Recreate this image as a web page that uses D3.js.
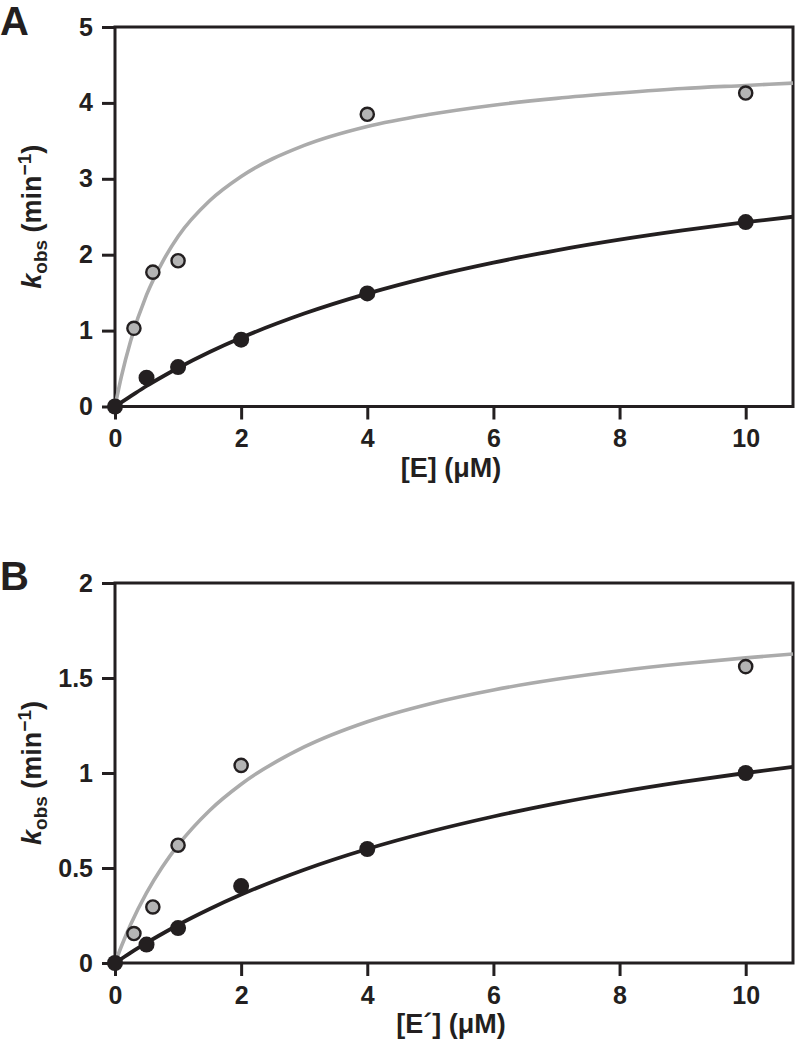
<!DOCTYPE html>
<html>
<head>
<meta charset="utf-8">
<script src="https://cdn.jsdelivr.net/npm/d3@7/dist/d3.min.js"></script>
<style>
  html, body { margin: 0; padding: 0; background: #ffffff; }
  svg { display: block; font-family: "Liberation Sans", Arial, Helvetica, sans-serif; }
</style>
</head>
<body>
<svg id="chart" width="796" height="1050"></svg>
<script>
// ---------- Data ----------
const xTicks = [0, 2, 4, 6, 8, 10];
const yTicksA = [0, 1, 2, 3, 4, 5];
const yTicksB = [0, 0.5, 1, 1.5, 2];
const yTickLabelsB = ["0", "0.5", "1", "1.5", "2"];

// Panel A points
const grayPtsAx = [0.3, 0.6, 1, 4, 10];
const grayPtsAy = [1.03, 1.77, 1.92, 3.85, 4.13];
const blackPtsAx = [0, 0.5, 1, 2, 4, 10];
const blackPtsAy = [0, 0.38, 0.52, 0.88, 1.49, 2.43];
// Panel A fitted curves
const curveAx = [0, 0.1, 0.25, 0.5, 0.75, 1, 1.5, 2, 3, 4, 5, 6, 7, 8, 9, 10, 10.75];
const grayCurveAy = [0, 0.39, 0.87, 1.47, 1.9, 2.24, 2.71, 3.03, 3.44, 3.69, 3.85, 3.97, 4.06, 4.13, 4.19, 4.23, 4.26];
const blackCurveAy = [0, 0.055, 0.136, 0.27, 0.392, 0.507, 0.717, 0.905, 1.225, 1.488, 1.709, 1.896, 2.057, 2.197, 2.319, 2.428, 2.5];

// Panel B points
const grayPtsBx = [0.3, 0.6, 1, 2, 10];
const grayPtsBy = [0.155, 0.295, 0.62, 1.04, 1.56];
const blackPtsBx = [0, 0.5, 1, 2, 4, 10];
const blackPtsBy = [0, 0.097, 0.184, 0.405, 0.6, 1.0];
// Panel B fitted curves
const curveBx = [0, 0.1, 0.25, 0.5, 0.75, 1, 1.5, 2, 3, 4, 5, 6, 7, 8, 9, 10, 10.75];
const grayCurveBy = [0, 0.087, 0.204, 0.369, 0.505, 0.62, 0.803, 0.941, 1.137, 1.27, 1.365, 1.437, 1.493, 1.538, 1.575, 1.606, 1.626];
const blackCurveBy = [0, 0.022, 0.055, 0.106, 0.154, 0.2, 0.284, 0.36, 0.491, 0.6, 0.692, 0.771, 0.84, 0.9, 0.953, 1.0, 1.032];

// ---------- Drawing ----------
const svg = d3.select("#chart");
const INK = "#231f20";
const GRAYLINE = "#ababab";
const GRAYFILL = "#b4b4b4";

function zip(xs, ys) { return xs.map((x, i) => [x, ys[i]]); }

function panel(opts) {
  const x = d3.scaleLinear().domain([0, 10.75]).range([115, 793]);
  const y = d3.scaleLinear().domain(opts.yDomain).range([opts.bottom, opts.top]);
  const g = svg.append("g");

  // frame
  g.append("rect")
    .attr("x", x(0)).attr("y", y(opts.yDomain[1]))
    .attr("width", x(10.75) - x(0)).attr("height", y(0) - y(opts.yDomain[1]))
    .attr("fill", "none").attr("stroke", INK).attr("stroke-width", 3);

  // axes
  const yAxis = d3.axisLeft(y).tickValues(opts.yTicks).tickSize(13).tickPadding(9)
    .tickFormat((d, i) => opts.yLabels[i]);
  const ya = g.append("g").attr("transform", `translate(${x(0)},0)`).call(yAxis);
  const xAxis = d3.axisBottom(x).tickValues(xTicks).tickSize(13).tickPadding(10).tickFormat(d3.format("d"));
  const xa = g.append("g").attr("transform", `translate(0,${y(0)})`).call(xAxis);
  [ya, xa].forEach(a => {
    a.attr("font-size", 25).attr("font-family", '"Liberation Sans", Arial, sans-serif');
    a.select(".domain").remove();
    a.selectAll(".tick line").attr("stroke", INK).attr("stroke-width", 3);
    a.selectAll(".tick text").attr("fill", INK).style("font-size", "25px").attr("font-weight", "bold");
  });

  // curves
  const line = d3.line().x(d => x(d[0])).y(d => y(d[1])).curve(d3.curveMonotoneX);
  g.append("path").datum(zip(opts.curveX, opts.grayCurve)).attr("d", line)
    .attr("fill", "none").attr("stroke", GRAYLINE).attr("stroke-width", 3.6);
  g.append("path").datum(zip(opts.curveX, opts.blackCurve)).attr("d", line)
    .attr("fill", "none").attr("stroke", INK).attr("stroke-width", 3.8);

  // points
  g.selectAll(".gp").data(zip(opts.grayX, opts.grayY)).join("circle")
    .attr("cx", d => x(d[0])).attr("cy", d => y(d[1])).attr("r", 6.6)
    .attr("fill", GRAYFILL).attr("stroke", INK).attr("stroke-width", 2.4);
  g.selectAll(".bp").data(zip(opts.blackX, opts.blackY)).join("circle")
    .attr("cx", d => x(d[0])).attr("cy", d => y(d[1])).attr("r", 8)
    .attr("fill", INK);

  // panel letter
  g.append("text").attr("x", 0).attr("y", opts.letterY).text(opts.letter)
    .attr("font-size", 40).attr("font-weight", "bold").attr("fill", INK);

  // x title
  const xt = g.append("text").attr("x", 451).attr("y", y(0) + 70)
    .attr("text-anchor", "middle").attr("font-size", 27).attr("font-weight", "bold").attr("fill", INK);
  xt.text(opts.xTitle);

  // y title
  const cy = (y(0) + y(opts.yDomain[1])) / 2;
  const yt = g.append("text").attr("transform", `translate(41,${cy}) rotate(-90)`)
    .attr("text-anchor", "middle").attr("font-size", 27).attr("font-weight", "bold").attr("fill", INK);
  yt.append("tspan").attr("font-style", "italic").text("k");
  yt.append("tspan").attr("font-size", 19).attr("dy", 6).text("obs");
  yt.append("tspan").attr("dy", -6).text(" (min");
  yt.append("tspan").attr("font-size", 19).attr("dy", -10).text("\u22121");
  yt.append("tspan").attr("dy", 10).text(")");
}

panel({
  top: 27, bottom: 406.5, yDomain: [0, 5], yTicks: yTicksA, yLabels: yTicksA.map(String),
  grayX: grayPtsAx, grayY: grayPtsAy, blackX: blackPtsAx, blackY: blackPtsAy,
  curveX: curveAx, grayCurve: grayCurveAy, blackCurve: blackCurveAy,
  letter: "A", letterY: 35, xTitle: "[E] (\u03bcM)"
});
panel({
  top: 583, bottom: 963, yDomain: [0, 2], yTicks: yTicksB, yLabels: yTickLabelsB,
  grayX: grayPtsBx, grayY: grayPtsBy, blackX: blackPtsBx, blackY: blackPtsBy,
  curveX: curveBx, grayCurve: grayCurveBy, blackCurve: blackCurveBy,
  letter: "B", letterY: 590, xTitle: "[E\u00b4] (\u03bcM)"
});
</script>
</body>
</html>
